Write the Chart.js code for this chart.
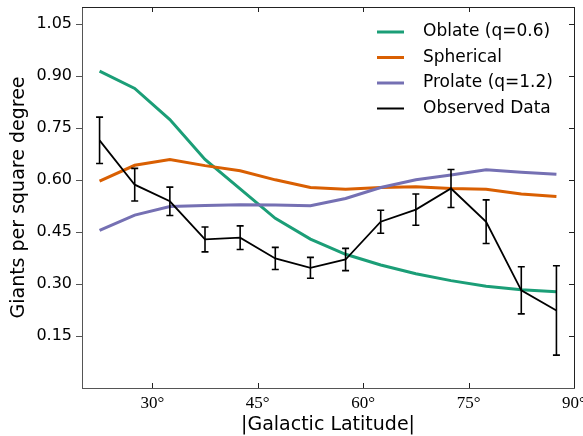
<!DOCTYPE html>
<html>
<head>
<meta charset="utf-8">
<script src="https://cdn.jsdelivr.net/npm/chart.js@4"></script>
<style>
  body { margin: 0; background: #fff; }
  #wrap { width: 583px; height: 436px; }
</style>
</head>
<body>
<div id="wrap"><canvas id="latChart" width="583" height="436"></canvas></div>
<script>
// values
const latitude = [22.5, 27.5, 32.5, 37.5, 42.5, 47.5, 52.5, 57.5, 62.5, 67.5, 72.5, 77.5, 82.5, 87.5];
const oblate = [0.915, 0.865, 0.775, 0.66, 0.575, 0.49, 0.43, 0.386, 0.355, 0.33, 0.31, 0.294, 0.284, 0.278];
const spherical = [0.597, 0.643, 0.66, 0.642, 0.627, 0.601, 0.579, 0.574, 0.579, 0.581, 0.576, 0.574, 0.56, 0.553];
const prolate = [0.455, 0.499, 0.524, 0.527, 0.529, 0.528, 0.526, 0.547, 0.579, 0.601, 0.615, 0.63, 0.623, 0.617];
const observed = [0.715, 0.587, 0.539, 0.429, 0.434, 0.374, 0.347, 0.371, 0.48, 0.515, 0.576, 0.48, 0.282, 0.224];
const observedErr = [0.067, 0.047, 0.041, 0.036, 0.034, 0.032, 0.03, 0.032, 0.033, 0.045, 0.055, 0.063, 0.068, 0.129];
const yTickValues = [0.15, 0.30, 0.45, 0.60, 0.75, 0.90, 1.05];
const xTickValues = [30, 45, 60, 75, 90];

Chart.defaults.font.family = "'DejaVu Sans', sans-serif";
Chart.defaults.color = '#000';

function pts(arr) {
    return latitude.map((x, i) => ({x: x, y: arr[i]}));
}

const seriesInfo = [
    {label: 'Oblate (q=0.6)', color: '#1b9e77', width: 3},
    {label: 'Spherical', color: '#d95f02', width: 3},
    {label: 'Prolate (q=1.2)', color: '#7570b3', width: 3},
    {label: 'Observed Data', color: '#000000', width: 1.8}
];

// error bars on the observed series
const errorBars = {
    id: 'errorBars',
    afterDatasetsDraw(chart) {
        const ctx = chart.ctx;
        const xs = chart.scales.x, ys = chart.scales.y;
        ctx.save();
        ctx.strokeStyle = '#000';
        ctx.lineWidth = 1.6;
        for (let i = 0; i < latitude.length; i++) {
            const px = xs.getPixelForValue(latitude[i]);
            const top = ys.getPixelForValue(observed[i] + observedErr[i]);
            const bot = ys.getPixelForValue(observed[i] - observedErr[i]);
            ctx.beginPath();
            ctx.moveTo(px, top); ctx.lineTo(px, bot);
            ctx.moveTo(px - 3.5, top); ctx.lineTo(px + 3.5, top);
            ctx.moveTo(px - 3.5, bot); ctx.lineTo(px + 3.5, bot);
            ctx.stroke();
        }
        ctx.restore();
    }
};

// top/right spines, inward ticks, legend
const frameAndLegend = {
    id: 'frameAndLegend',
    afterDraw(chart) {
        const ctx = chart.ctx;
        const a = chart.chartArea;
        const xs = chart.scales.x, ys = chart.scales.y;
        ctx.save();
        ctx.strokeStyle = '#222';
        ctx.lineWidth = 1;
        ctx.beginPath();
        ctx.moveTo(a.left, a.top + 0.5); ctx.lineTo(a.right + 0.5, a.top + 0.5);
        ctx.lineTo(a.right + 0.5, a.bottom);
        ctx.stroke();
        ctx.beginPath();
        xTickValues.forEach(v => {
            const px = Math.round(xs.getPixelForValue(v)) + 0.5;
            ctx.moveTo(px, a.top); ctx.lineTo(px, a.top + 5);
            ctx.moveTo(px, a.bottom); ctx.lineTo(px, a.bottom - 5);
        });
        yTickValues.forEach(v => {
            const py = Math.round(ys.getPixelForValue(v)) + 0.5;
            ctx.moveTo(a.right, py); ctx.lineTo(a.right - 5, py);
        });
        ctx.stroke();

        // legend
        ctx.font = "17px 'DejaVu Sans'";
        ctx.textBaseline = 'middle';
        ctx.fillStyle = '#000';
        seriesInfo.forEach((s, i) => {
            const y = 32 + i * 25.5;
            ctx.strokeStyle = s.color;
            ctx.lineWidth = s.width === 3 ? 3 : 2;
            ctx.beginPath();
            ctx.moveTo(377, y); ctx.lineTo(404, y);
            ctx.stroke();
            ctx.fillText(s.label, 423, y);
        });
        ctx.restore();
    }
};

function noPad(s) {
    s.paddingLeft = 0; s.paddingRight = 0;
    s.paddingTop = 0; s.paddingBottom = 0;
}

const ctx = document.getElementById('latChart').getContext('2d');
const datasets = [oblate, spherical, prolate, observed].map((arr, i) => ({
    label: seriesInfo[i].label,
    data: pts(arr),
    borderColor: seriesInfo[i].color,
    borderWidth: seriesInfo[i].width,
    pointRadius: 0,
    tension: 0,
    fill: false,
    order: 3 - i
}));

new Chart(ctx, {
    type: 'line',
    data: {datasets: datasets},
    options: {
        responsive: false,
        animation: false,
        layout: {padding: {top: 7, right: 9, left: 0, bottom: 0}},
        plugins: {legend: {display: false}, tooltip: {enabled: false}},
        scales: {
            x: {
                type: 'linear',
                min: 20, max: 90,
                afterBuildTicks: s => { s.ticks = xTickValues.map(v => ({value: v})); },
                afterFit: s => { s.height = 48; noPad(s); },
                grid: {display: true, drawOnChartArea: false, drawTicks: false},
                border: {color: '#555', width: 1},
                ticks: {
                    padding: 5,
                    maxRotation: 0,
                    font: {family: "'Liberation Serif', serif", size: 17},
                    callback: v => v + '°'
                },
                title: {
                    display: true,
                    text: '|Galactic Latitude|',
                    font: {size: 19},
                    padding: {top: 0, bottom: 0}
                }
            },
            y: {
                min: 0, max: 1.1,
                afterBuildTicks: s => { s.ticks = yTickValues.map(v => ({value: v})); },
                afterFit: s => { s.width = 82; noPad(s); },
                grid: {display: true, drawOnChartArea: false, drawTicks: true, tickLength: 6, color: '#555'},
                border: {color: '#555', width: 1},
                ticks: {
                    padding: 4,
                    font: {size: 16},
                    callback: v => v.toFixed(2)
                },
                title: {
                    display: true,
                    text: 'Giants per square degree',
                    font: {size: 19},
                    padding: {top: 8, bottom: 0}
                }
            }
        }
    },
    plugins: [errorBars, frameAndLegend]
});
</script>
</body>
</html>
